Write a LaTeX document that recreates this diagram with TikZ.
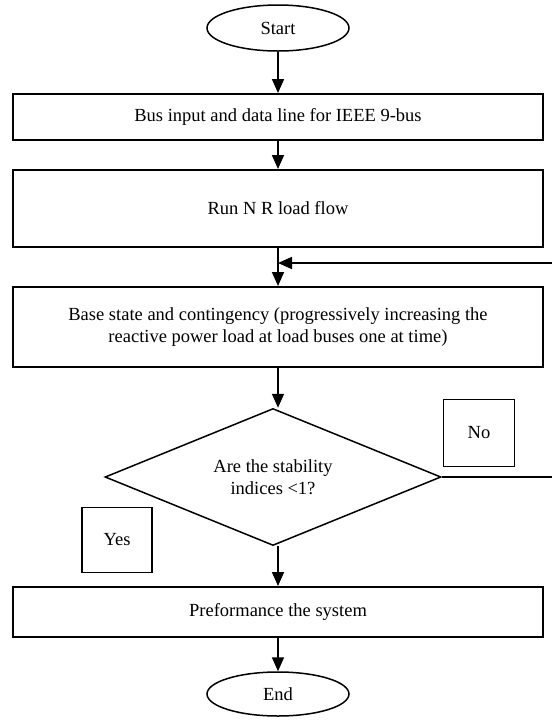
\documentclass[tikz,border=0pt]{standalone}
\usepackage{fontspec}
\setmainfont{Liberation Serif}
\usetikzlibrary{arrows.meta, positioning, shapes.geometric}

\tikzset{
  procbox/.style={draw, line width=2pt, minimum width=530pt, align=center, inner sep=0pt},
  term/.style={draw, ellipse, line width=1.5pt, minimum width=142pt, minimum height=46pt, inner sep=0pt},
  decide/.style={draw, diamond, aspect=2.4, line width=1.5pt, minimum width=336pt, minimum height=137pt, inner sep=0pt, align=center},
  tagbox/.style={draw, line width=1.8pt, inner sep=0pt},
  flow/.style={line width=1.7pt, -{Triangle[width=12pt,length=14pt]}}
}

\begin{document}
\begin{tikzpicture}[x=1pt, y=-1pt, font=\fontsize{18.5}{22}\selectfont]
    \useasboundingbox (0,0) rectangle (552,721);
    % main column
    \node[term] (start) at (278,28) {Start};
    \node[procbox, minimum height=46pt] (busin) at (278,117) {Bus input and data line for IEEE 9-bus};
    \node[procbox, minimum height=77pt] (nrflow) at (278,208.5) {Run N R load flow};
    \node[procbox, minimum height=80pt] (base) at (278,327)
      {Base state and contingency (progressively increasing the\\reactive power load at load buses one at time)};
    \node[decide] (stab) at (273,477) {Are the stability\\indices <1?};
    \node[procbox, minimum height=50pt] (perf) at (278,612) {Preformance the system};
    \node[term, minimum height=44pt] (fin) at (278,694) {End};
    % answer tags
    \node[tagbox, minimum width=70pt, minimum height=65pt] (yes) at (117,540) {Yes};
    \node[tagbox, minimum width=71pt, minimum height=67pt] (no) at (479,433) {No};
    % loop back (runs off the right edge)
    \coordinate (fb) at (278,263);
    \coordinate (noout) at (552,477);
    \coordinate (fbin) at (552,263);

    \draw[flow] (start) -- (busin);
    \draw[flow] (busin) -- (nrflow);
    \draw[flow] (nrflow) -- (base);
    \draw[flow] (base) -- (stab.north -| base.south);
    \draw[flow] (stab.south -| perf.north) -- (perf);
    \draw[flow] (perf) -- (fin);
    \draw[line width=1.7pt] (stab.east) -- (noout);
    \draw[flow] (fbin) -- (fb);
\end{tikzpicture}
\end{document}
